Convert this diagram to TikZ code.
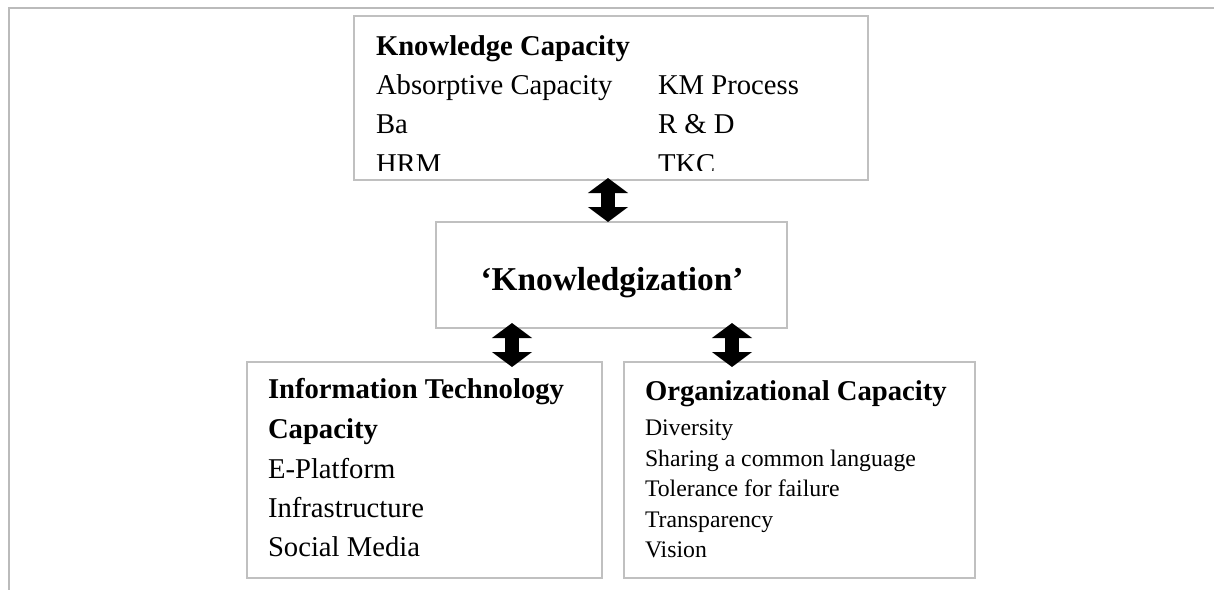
\documentclass[tikz,border=0pt]{standalone}
\usepackage{fontspec}
\setmainfont{Liberation Serif}
\usetikzlibrary{arrows.meta}
\definecolor{boxgray}{RGB}{192,192,192}
\definecolor{framegray}{RGB}{187,187,187}
\tikzset{
  panel/.style={draw=boxgray, line width=1.5pt, fill=white, inner sep=0pt, outer sep=0pt},
  frameline/.style={draw=framegray, line width=1.5pt},
  txt/.style={anchor=base west, inner sep=0pt, outer sep=0pt},
  headfont/.style={font=\fontsize{21.5pt}{25pt}\selectfont\bfseries},
  bodyfont/.style={font=\fontsize{21.5pt}{25pt}\selectfont},
  smallfont/.style={font=\fontsize{17.8pt}{21pt}\selectfont},
  titlefont/.style={font=\fontsize{25pt}{30pt}\selectfont\bfseries},
  dblarrow/.style={draw=black, line width=10pt,
    {Triangle[width=29.5pt,length=11.25pt]}-{Triangle[width=29.5pt,length=11.25pt]}}
}
\begin{document}
\begin{tikzpicture}[x=0.75pt,y=-0.75pt]
\useasboundingbox (0,0) rectangle (1214,590);
\fill[white] (0,0) rectangle (1214,590);

% page frame: top and left rules only
\draw[frameline] (8,8) -- (1214,8);
\draw[frameline] (9,8) -- (9,590);

% the four panels
\node[panel, minimum width=385.5pt, minimum height=123pt] (kc) at (611,98) {};
\node[panel, minimum width=263.25pt, minimum height=79.5pt] (kz) at (611.5,275) {};
\node[panel, minimum width=266.25pt, minimum height=162pt] (itc) at (424.5,470) {};
\node[panel, minimum width=263.25pt, minimum height=162pt] (oc) at (799.5,470) {};

% knowledge capacity (last row runs past the panel and is cut off)
\begin{scope}
  \clip (354,16) rectangle (868,170);
  \node[txt, headfont] (kc-title) at (376,55) {Knowledge Capacity};
  \node[txt, bodyfont] (kc-abs) at (376,94.5) {Absorptive Capacity};
  \node[txt, bodyfont] (kc-ba)  at (376,133.5) {Ba};
  \node[txt, bodyfont] (kc-hrm) at (376,173) {HRM};
  \node[txt, bodyfont] (kc-kmp) at (658,94.5) {KM Process};
  \node[txt, bodyfont] (kc-rd)  at (658,133.5) {R \& D};
  \node[txt, bodyfont] (kc-tkc) at (658,173) {TKC};
\end{scope}

% centre panel
\node[titlefont, anchor=base, inner sep=0pt] (kz-title) at (612,290) {‘Knowledgization’};

% information technology capacity
\node[txt, headfont] (itc-t1) at (268,398) {Information Technology};
\node[txt, headfont] (itc-t2) at (268,438) {Capacity};
\node[txt, bodyfont] (itc-ep) at (268,478) {E-Platform};
\node[txt, bodyfont] (itc-in) at (268,517) {Infrastructure};
\node[txt, bodyfont] (itc-sm) at (268,556) {Social Media};

% organizational capacity
\node[txt, headfont] (oc-title) at (645,400) {Organizational Capacity};
\node[txt, smallfont] (oc-div) at (645,435) {Diversity};
\node[txt, smallfont] (oc-lang) at (645,466) {Sharing a common language};
\node[txt, smallfont] (oc-tol) at (645,496.5) {Tolerance for failure};
\node[txt, smallfont] (oc-tra) at (645,527) {Transparency};
\node[txt, smallfont] (oc-vis) at (645,557) {Vision};

% two-way links
\coordinate (xa) at (608,0);
\coordinate (xb) at (512,0);
\coordinate (xc) at (732,0);
\draw[dblarrow, shorten <=-1.5pt] (xa |- kc.south) -- (xa |- kz.north);
\draw[dblarrow, shorten <=-3.75pt, shorten >=-3.75pt] (xb |- kz.south) -- (xb |- itc.north);
\draw[dblarrow, shorten <=-3.75pt, shorten >=-3.75pt] (xc |- kz.south) -- (xc |- oc.north);
\end{tikzpicture}
\end{document}
